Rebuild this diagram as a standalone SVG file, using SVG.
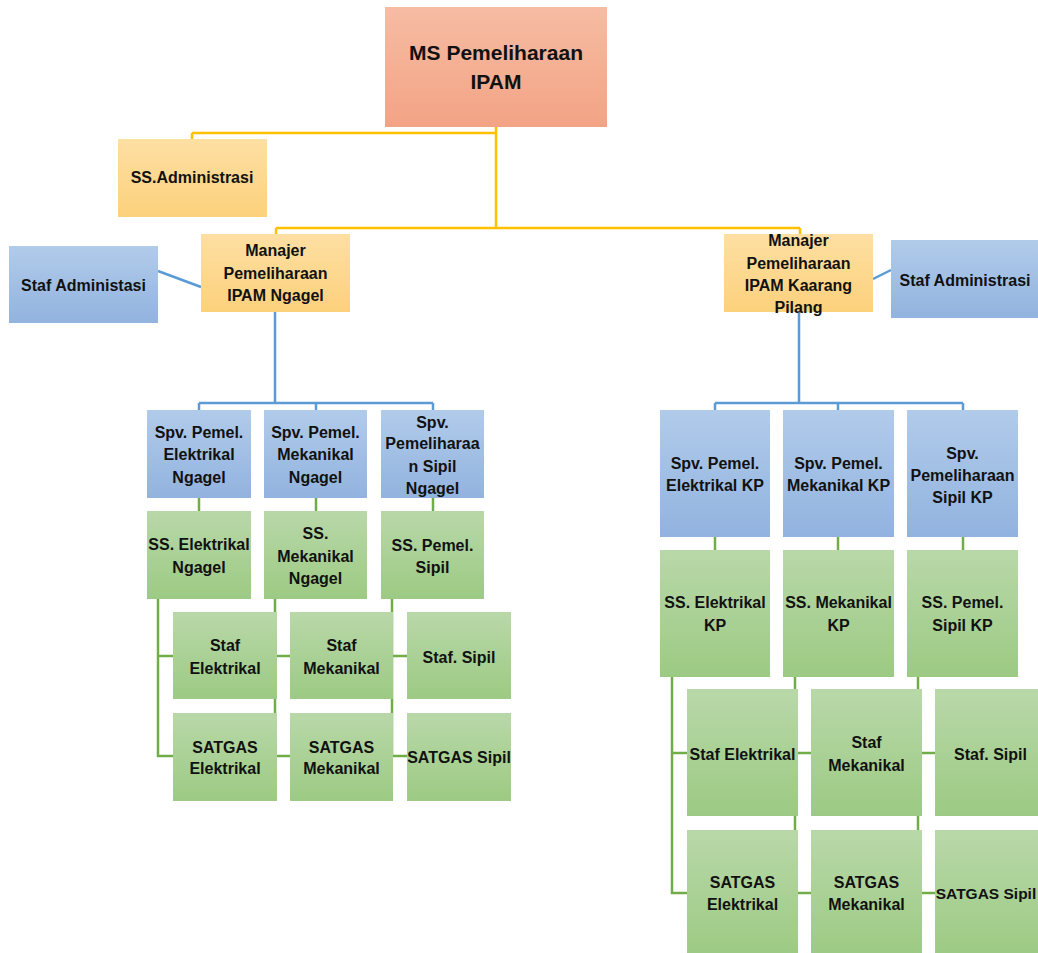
<svg xmlns="http://www.w3.org/2000/svg" width="1038" height="953" viewBox="0 0 1038 953">
<defs>
<linearGradient id="gTop" x1="0" y1="0" x2="0" y2="1"><stop offset="0" stop-color="#f6bca3"/><stop offset="1" stop-color="#f3a385"/></linearGradient>
<linearGradient id="gGold" x1="0" y1="0" x2="0" y2="1"><stop offset="0" stop-color="#fedfa3"/><stop offset="1" stop-color="#fcd17c"/></linearGradient>
<linearGradient id="gBlue" x1="0" y1="0" x2="0" y2="1"><stop offset="0" stop-color="#b1cbea"/><stop offset="1" stop-color="#92b3df"/></linearGradient>
<linearGradient id="gGreen" x1="0" y1="0" x2="0" y2="1"><stop offset="0" stop-color="#b9d8a9"/><stop offset="1" stop-color="#9cca83"/></linearGradient>
<style>
text{font-family:"Liberation Sans",Arial,sans-serif;font-weight:bold;font-size:16px;fill:#111;text-anchor:middle}
.t{font-size:21px}
.gold{fill:url(#gGold)}
.blue{fill:url(#gBlue)}
.green{fill:url(#gGreen)}
.y{stroke:#ffc000;stroke-width:2.5;fill:none}
.b{stroke:#5b9bd5;stroke-width:2.5;fill:none}
.g{stroke:#70ad47;stroke-width:2.5;fill:none}
</style>
</defs>
<rect width="1038" height="953" fill="#fff"/>
<g id="connectors">
<path class="y" d="M496 127V228M192 133H496M192 133V139M276 228H800M276 228V234M800 228V234"/>
<path class="b" d="M275 312V403M199 403H433M199 403V410M316 403V410M433 403V410M158 271L201 287"/>
<path class="b" d="M799 312V403M715 403H963M715 403V410M838 403V410M963 403V410M873 279L891 270"/>
<path class="g" d="M199 498V511M316 498V511M433 498V511M158 599V756H173M158 656H173M275 599V756H290M275 656H290M392 599V756H407M392 656H407"/>
<path class="g" d="M715 537V550M838 537V550M963 537V550M672 677V893H687M672 753H687M795 677V893H811M795 753H811M918 677V893H935M918 753H935"/>
</g>
<g id="ms"><rect x="385" y="7" width="222" height="120" fill="url(#gTop)"/><text class="t" x="496" y="60">MS Pemeliharaan</text><text class="t" x="496" y="89">IPAM</text></g>
<g id="ssadm"><rect class="gold" x="118" y="139" width="149" height="78"/><text x="192" y="183">SS.Administrasi</text></g>
<g id="mgrNgagel"><rect class="gold" x="201" y="234" width="149" height="78"/><text x="275.5" y="256">Manajer</text><text x="275.5" y="279">Pemeliharaan</text><text x="275.5" y="301">IPAM Ngagel</text></g>
<g id="stafAdmL"><rect class="blue" x="9" y="246" width="149" height="77"/><text x="83.5" y="291">Staf Administasi</text></g>
<g id="mgrKP"><rect class="gold" x="724" y="234" width="149" height="78"/><text x="798.5" y="246">Manajer</text><text x="798.5" y="269">Pemeliharaan</text><text x="798.5" y="291">IPAM Kaarang</text><text x="798.5" y="313">Pilang</text></g>
<g id="stafAdmR"><rect class="blue" x="891" y="240" width="155" height="78"/><text x="965" y="286">Staf Administrasi</text></g>
<g id="spvElN"><rect class="blue" x="147" y="410" width="104" height="88"/><text x="199" y="438">Spv. Pemel.</text><text x="199" y="460">Elektrikal</text><text x="199" y="483">Ngagel</text></g>
<g id="spvMeN"><rect class="blue" x="264" y="410" width="103" height="88"/><text x="315.5" y="438">Spv. Pemel.</text><text x="315.5" y="460">Mekanikal</text><text x="315.5" y="483">Ngagel</text></g>
<g id="spvSiN"><rect class="blue" x="381" y="410" width="103" height="88"/><text x="432.5" y="428">Spv.</text><text x="432.5" y="449">Pemeliharaa</text><text x="432.5" y="472">n Sipil</text><text x="432.5" y="494">Ngagel</text></g>
<g id="ssElN"><rect class="green" x="147" y="511" width="104" height="88"/><text x="199" y="550">SS. Elektrikal</text><text x="199" y="573">Ngagel</text></g>
<g id="ssMeN"><rect class="green" x="264" y="511" width="103" height="88"/><text x="315.5" y="539">SS.</text><text x="315.5" y="562">Mekanikal</text><text x="315.5" y="584">Ngagel</text></g>
<g id="ssSiN"><rect class="green" x="381" y="511" width="103" height="88"/><text x="432.5" y="551">SS. Pemel.</text><text x="432.5" y="573">Sipil</text></g>
<g id="stafElN"><rect class="green" x="173" y="612" width="104" height="87"/><text x="225" y="651">Staf</text><text x="225" y="674">Elektrikal</text></g>
<g id="stafMeN"><rect class="green" x="290" y="612" width="103" height="87"/><text x="341.5" y="651">Staf</text><text x="341.5" y="674">Mekanikal</text></g>
<g id="stafSiN"><rect class="green" x="407" y="612" width="104" height="87"/><text x="459" y="663">Staf. Sipil</text></g>
<g id="satElN"><rect class="green" x="173" y="713" width="104" height="88"/><text x="225" y="753">SATGAS</text><text x="225" y="774">Elektrikal</text></g>
<g id="satMeN"><rect class="green" x="290" y="713" width="103" height="88"/><text x="341.5" y="753">SATGAS</text><text x="341.5" y="774">Mekanikal</text></g>
<g id="satSiN"><rect class="green" x="407" y="713" width="104" height="88"/><text x="459" y="763">SATGAS Sipil</text></g>
<g id="spvElK"><rect class="blue" x="660" y="410" width="110" height="127"/><text x="715" y="469">Spv. Pemel.</text><text x="715" y="491">Elektrikal KP</text></g>
<g id="spvMeK"><rect class="blue" x="783" y="410" width="111" height="127"/><text x="838.5" y="469">Spv. Pemel.</text><text x="838.5" y="491">Mekanikal KP</text></g>
<g id="spvSiK"><rect class="blue" x="907" y="410" width="111" height="127"/><text x="962.5" y="459">Spv.</text><text x="962.5" y="481">Pemeliharaan</text><text x="962.5" y="503">Sipil KP</text></g>
<g id="ssElK"><rect class="green" x="660" y="550" width="110" height="127"/><text x="715" y="608">SS. Elektrikal</text><text x="715" y="631">KP</text></g>
<g id="ssMeK"><rect class="green" x="783" y="550" width="111" height="127"/><text x="838.5" y="608">SS. Mekanikal</text><text x="838.5" y="631">KP</text></g>
<g id="ssSiK"><rect class="green" x="907" y="550" width="111" height="127"/><text x="962.5" y="608">SS. Pemel.</text><text x="962.5" y="631">Sipil KP</text></g>
<g id="stafElK"><rect class="green" x="687" y="689" width="111" height="127"/><text x="742.5" y="760">Staf Elektrikal</text></g>
<g id="stafMeK"><rect class="green" x="811" y="689" width="111" height="127"/><text x="866.5" y="748">Staf</text><text x="866.5" y="771">Mekanikal</text></g>
<g id="stafSiK"><rect class="green" x="935" y="689" width="111" height="127"/><text x="990.5" y="760">Staf. Sipil</text></g>
<g id="satElK"><rect class="green" x="687" y="830" width="111" height="127"/><text x="742.5" y="888">SATGAS</text><text x="742.5" y="910">Elektrikal</text></g>
<g id="satMeK"><rect class="green" x="811" y="830" width="111" height="127"/><text x="866.5" y="888">SATGAS</text><text x="866.5" y="910">Mekanikal</text></g>
<g id="satSiK"><rect class="green" x="935" y="830" width="111" height="127"/><text x="986" y="899" style="font-size:15.5px">SATGAS Sipil</text></g>
</svg>
